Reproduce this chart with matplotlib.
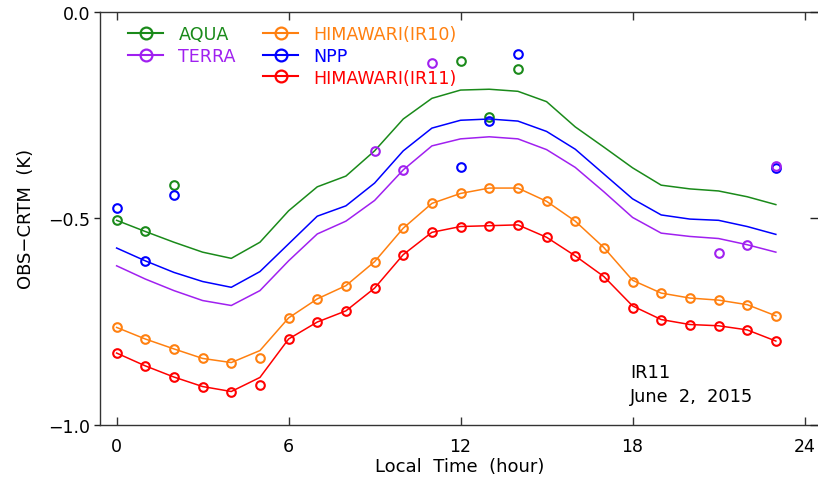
import matplotlib
matplotlib.use("Agg")
import matplotlib.pyplot as plt
from matplotlib.lines import Line2D

plt.rcParams['font.family'] = ['DejaVu Sans']

hours = list(range(24))

# Fitted curves (solid lines)
aqua_line = [-0.505, -0.532, -0.558, -0.582, -0.597, -0.558, -0.482, -0.424, -0.398, -0.337,
             -0.260, -0.210, -0.190, -0.188, -0.193, -0.218, -0.279, -0.328, -0.378, -0.420,
             -0.429, -0.434, -0.448, -0.467]
npp_line = [-0.572, -0.603, -0.631, -0.653, -0.667, -0.629, -0.562, -0.495, -0.470, -0.415,
            -0.337, -0.282, -0.263, -0.260, -0.265, -0.290, -0.333, -0.393, -0.453, -0.492,
            -0.502, -0.505, -0.520, -0.539]
terra_line = [-0.615, -0.647, -0.675, -0.699, -0.711, -0.675, -0.603, -0.538, -0.507, -0.457,
              -0.383, -0.325, -0.308, -0.303, -0.308, -0.334, -0.377, -0.436, -0.498, -0.536,
              -0.544, -0.549, -0.564, -0.582]
ir10_line = [-0.764, -0.792, -0.816, -0.839, -0.849, -0.820, -0.741, -0.695, -0.663, -0.605,
             -0.524, -0.464, -0.440, -0.427, -0.427, -0.459, -0.507, -0.571, -0.650, -0.681,
             -0.693, -0.698, -0.709, -0.736]
ir11_line = [-0.826, -0.857, -0.884, -0.907, -0.919, -0.885, -0.792, -0.751, -0.724, -0.669,
             -0.588, -0.534, -0.520, -0.518, -0.516, -0.546, -0.591, -0.641, -0.712, -0.745,
             -0.757, -0.760, -0.770, -0.797]

# Observations (open circles)
ir10_obs = [-0.764, -0.792, -0.816, -0.839, -0.849, -0.838, -0.741, -0.695, -0.663, -0.605,
            -0.524, -0.464, -0.440, -0.427, -0.427, -0.459, -0.507, -0.571, -0.653, -0.681,
            -0.693, -0.698, -0.709, -0.736]
ir11_obs = [-0.826, -0.857, -0.884, -0.907, -0.919, -0.903, -0.792, -0.751, -0.724, -0.669,
            -0.588, -0.534, -0.520, -0.518, -0.516, -0.546, -0.591, -0.641, -0.717, -0.745,
            -0.757, -0.760, -0.770, -0.797]

aqua_hours = [0, 1, 2, 12, 13, 14]
aqua_obs = [-0.505, -0.532, -0.420, -0.120, -0.256, -0.139]
npp_hours = [0, 1, 2, 12, 13, 14, 23]
npp_obs = [-0.476, -0.603, -0.443, -0.375, -0.266, -0.103, -0.378]
terra_hours = [9, 10, 11, 21, 22, 23]
terra_obs = [-0.338, -0.383, -0.124, -0.584, -0.564, -0.374]

GREEN = '#1a8a1a'
PURPLE = '#a020f0'
ORANGE = '#ff8010'
BLUE = '#0000ff'
RED = '#ff0000'

fig = plt.figure(figsize=(8.18, 4.81), dpi=100)
W, H = 818, 481
ax = fig.add_axes([100 / W, 1 - 426 / H, 720 / W, (426 - 12.5) / H])

lw = 1.1
ms = 6.2
mew = 1.5

ax.plot(hours, aqua_line, color=GREEN, lw=lw)
ax.plot(hours, npp_line, color=BLUE, lw=lw)
ax.plot(hours, terra_line, color=PURPLE, lw=lw)
ax.plot(hours, ir10_line, color=ORANGE, lw=lw)
ax.plot(hours, ir11_line, color=RED, lw=lw)

mk = dict(ls='none', marker='o', mfc='none', ms=ms, mew=mew)
ax.plot(hours, ir10_obs, color=ORANGE, **mk)
ax.plot(hours, ir11_obs, color=RED, **mk)
ax.plot(aqua_hours, aqua_obs, color=GREEN, **mk)
ax.plot(npp_hours, npp_obs, color=BLUE, **mk)
ax.plot(terra_hours, terra_obs, color=PURPLE, **mk)

ax.set_xlim(-0.58, 24.54)
ax.set_ylim(-1.0, 0.0)

ax.set_xticks([0, 6, 12, 18, 24])
ax.set_yticks([0.0, -0.5, -1.0])
ax.set_yticklabels(['0.0', '\u22120.5', '\u22121.0'])

ax.tick_params(axis='x', direction='in', length=6, width=1, top=True, bottom=True,
               labelsize=12.5, pad=9, color='#333333')
ax.tick_params(axis='y', which='major', direction='out', length=4, width=1,
               left=True, right=False, labelsize=12.5, pad=3, color='#222222')
for s in ['top', 'bottom', 'left']:
    ax.spines[s].set_color('#333333')
    ax.spines[s].set_linewidth(1)
ax.spines['right'].set_visible(False)

# inward right ticks
ax2 = ax.twinx()
ax2.set_ylim(ax.get_ylim())
ax2.set_yticks([0.0, -0.5, -1.0])
ax2.tick_params(axis='y', direction='in', length=7, width=1, labelright=False, color='#222222')
for s in ['right', 'top', 'left', 'bottom']:
    ax2.spines[s].set_visible(False)

ax.set_xlabel('Local  Time  (hour)', fontsize=13)
ax.xaxis.set_label_coords((460 - 100) / 720, (426 - 467) / 413.5)
ax.xaxis.label.set_va('center')
ax.set_ylabel('OBS\u2212CRTM  (K)', fontsize=13)
ax.yaxis.set_label_coords((26 - 100) / 720, (426 - 219) / 413.5)
ax.yaxis.label.set_va('center')

ax.text(630 / W, 1 - 373 / H, 'IR11', transform=fig.transFigure, fontsize=12.8,
        va='center', ha='left')
ax.text(630 / W, 1 - 397 / H, 'June  2,  2015', transform=fig.transFigure, fontsize=12.8,
        va='center', ha='left')

def handle(c):
    return Line2D([], [], color=c, lw=1.5, marker='o', mfc='none', ms=8.5, mew=1.6)

leg_kw = dict(frameon=False, fontsize=12.6, handlelength=2.0, handletextpad=0.88,
              labelspacing=0.2, borderaxespad=0, borderpad=0, labelcolor='linecolor')
leg1 = ax.legend([handle(GREEN), handle(PURPLE)], ['AQUA', 'TERRA'],
                 loc='upper left', bbox_to_anchor=(128 / W, 1 - 26.5 / H),
                 bbox_transform=fig.transFigure, **leg_kw)
ax.add_artist(leg1)
leg2 = ax.legend([handle(ORANGE), handle(BLUE), handle(RED)],
                 ['HIMAWARI(IR10)', 'NPP', 'HIMAWARI(IR11)'],
                 loc='upper left', bbox_to_anchor=(263 / W, 1 - 26.5 / H),
                 bbox_transform=fig.transFigure, **leg_kw)

fig.savefig('out.png', dpi=100)
